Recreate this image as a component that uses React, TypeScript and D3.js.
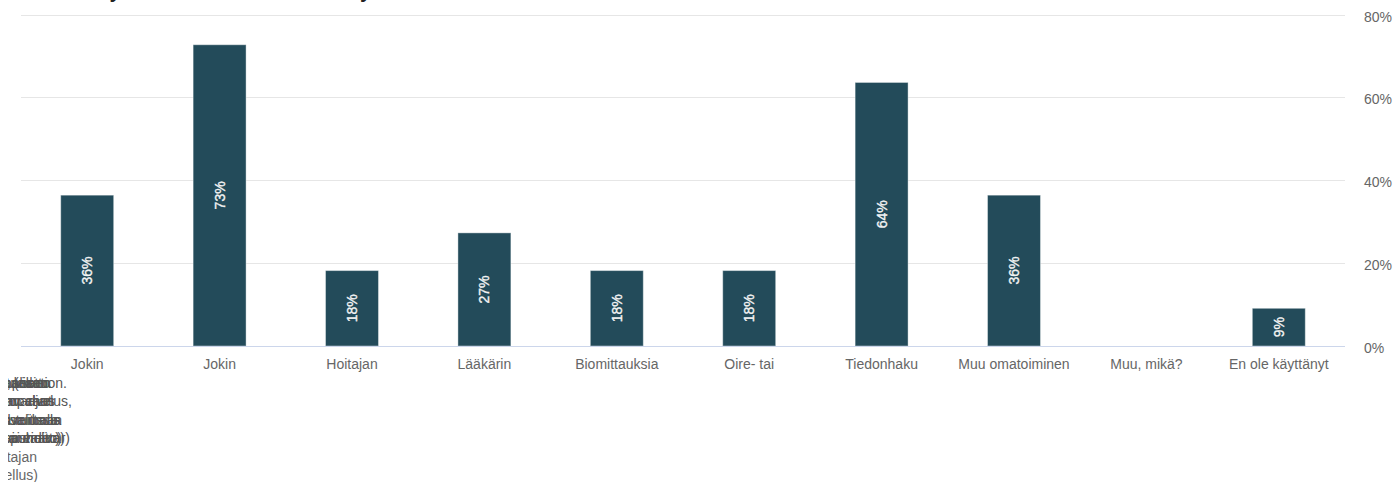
import React from "react";
import * as d3 from "d3";

const categories = [
  "Jokin",
  "Jokin",
  "Hoitajan",
  "Lääkärin",
  "Biomittauksia",
  "Oire- tai",
  "Tiedonhaku",
  "Muu omatoiminen",
  "Muu, mikä?",
  "En ole käyttänyt",
];
const values = [36.4, 72.7, 18.2, 27.3, 18.2, 18.2, 63.6, 36.4, 0, 9.1];
const yTicks = [0, 20, 40, 60, 80];
const titleText = "Terveyden omahoitokeinot, tai myös muut";

// continuation lines of the wrapped labels that pile up at the left edge
const overflowLines = [
  ["terveyssovellus / applikation.", "mittaukset (esim.", "etävastaanotto", "puhelu, video", "sovellukseen"],
  ["esim. verkkopalvelus,", "ajanvaraus", "hoitajan chat", "(esim. ajan"],
  ["arviointi verkossa ilman", "verenpaineen mittaus", "chat-palvelussa", "(esim. kirjautumalla"],
  ["(esim. hoitajan verenpainemittar)", "(esim. video tai puhelin)", "(esim. Omakanta tai vastaava)", "(puhelu tai video)"],
  ["varata aikaa hoitajan"],
  ["(esim. Omaolo-sovellus)"],
];
const overflowEnds = [
  [67, 52, 50, 48, 51],
  [72, 55, 52, 54],
  [62, 60, 58, 61],
  [70, 60, 65, 62],
  [37],
  [38],
];

const W = 1394;
const H = 482;
const FONT = "'Liberation Sans', Arial, Helvetica, sans-serif";

export default function App() {
  const x = d3
    .scaleBand<number>()
    .domain(d3.range(categories.length))
    .range([21, 1345])
    .paddingInner(0.6)
    .paddingOuter(0.3);
  const y = d3.scaleLinear().domain([0, 80]).range([346, 14.5]);

  return (
    <div style={{ position: "absolute", left: 0, top: 0 }}>
      <svg width={W} height={H} style={{ display: "block", background: "#fff" }}>
        <defs>
          <clipPath id="leftclip">
            <rect x={8} y={360} width={200} height={130} />
          </clipPath>
        </defs>
        <text
          x={60}
          y={-2.5}
          fontFamily="'Open Sans', sans-serif"
          fontWeight="bold"
          fontSize={18}
          fill="#222"
        >
          {titleText}
        </text>
        {yTicks.map((t) => (
          <g key={t}>
            {t > 0 && (
              <line x1={21} x2={1345} y1={Math.round(y(t)) + 0.5} y2={Math.round(y(t)) + 0.5} stroke="#e6e6e6" strokeWidth={1} />
            )}
            <text x={1364} y={y(t) + 7} fontFamily={FONT} fontSize={14} fill="#666">
              {t}%
            </text>
          </g>
        ))}
        {values.map((v, i) => {
          const bx = x(i)!;
          const bw = x.bandwidth();
          const top = y(v);
          const h = y(0) - top;
          const cx = bx + bw / 2;
          const cy = top + h / 2;
          return (
            <g key={i}>
              {v > 0 && (
                <rect x={bx} y={top} width={bw} height={h} fill="#234b5a" stroke="#ffffff" strokeOpacity={0.4} strokeWidth={1} />
              )}
              {v > 0 && (
                <text
                  transform={`translate(${cx},${cy}) rotate(-90)`}
                  textAnchor="middle"
                  dy="0.35em"
                  fontFamily={FONT}
                  fontSize={14}
                  fill="#f4f4f4"
                  stroke="#f4f4f4"
                  strokeWidth={0.35}
                >
                  {Math.round(v)}%
                </text>
              )}
              <text x={cx} y={369} textAnchor="middle" fontFamily={FONT} fontSize={14} fill="#666">
                {categories[i]}
              </text>
            </g>
          );
        })}
        <line x1={21} x2={1345} y1={346.5} y2={346.5} stroke="#ccd6eb" strokeWidth={1} />
        <g clipPath="url(#leftclip)">
          {overflowLines.map((line, li) =>
            line.map((s, si) => (
              <text
                key={`${li}-${si}`}
                x={overflowEnds[li][si]}
                y={388 + li * 18.4}
                textAnchor="end"
                fontFamily={FONT}
                fontSize={14}
                fill={line.length > 1 ? "#555" : "#666"}
              >
                {s}
              </text>
            ))
          )}
        </g>
      </svg>
    </div>
  );
}
